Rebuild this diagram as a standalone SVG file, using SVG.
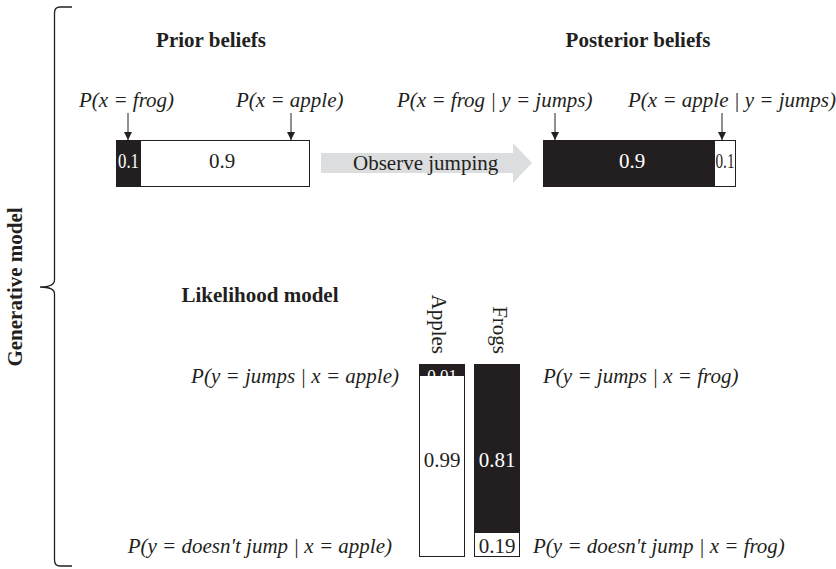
<svg xmlns="http://www.w3.org/2000/svg" width="836" height="569" viewBox="0 0 836 569">
<defs>
<marker id="ah" viewBox="0 0 10 10" refX="10" refY="5" markerWidth="8" markerHeight="8" markerUnits="userSpaceOnUse" orient="auto">
<path d="M0,0 L10,5 L0,10 Z" fill="#231f20"/>
</marker>
<style>
text{font-family:"Liberation Serif","Times New Roman",serif;font-size:21px;fill:#231f20}
.b{font-weight:bold}
.i{font-style:italic}
.w{fill:#fff}
.c{text-anchor:middle}
.e{text-anchor:end}
.blk{fill:#231f20;stroke:#231f20;stroke-width:1}
.wht{fill:#fff;stroke:#231f20;stroke-width:1}
.ar{stroke:#231f20;stroke-width:1;fill:none;marker-end:url(#ah)}
</style>
</defs>
<rect width="836" height="569" fill="#fff"/>

<g id="bracket">
<path d="M72,7 L60,7 Q54.5,7 54.5,13 L54.5,280 Q54.5,287 40,287 Q54.5,287 54.5,294 L54.5,560 Q54.5,566 60,566 L72,566" fill="none" stroke="#231f20" stroke-width="1.3"/>
<text class="b c" transform="translate(22,287) rotate(-90)">Generative model</text>
</g>

<g id="prior">
<text class="b c" x="211" y="47">Prior beliefs</text>
<text class="i" x="79" y="107">P(x = frog)</text>
<text class="i" x="236" y="107">P(x = apple)</text>
<rect class="wht" x="116.5" y="140.5" width="193" height="46"/>
<rect class="blk" x="116.5" y="140.5" width="24" height="46"/>
<text class="w c" x="128.5" y="168" textLength="21" lengthAdjust="spacingAndGlyphs">0.1</text>
<text class="c" x="222" y="168">0.9</text>
</g>

<g id="observe">
<path d="M321,153 L513,153 L513,143 L532,163 L513,183 L513,173 L321,173 Z" fill="#dcdddf"/>
<text x="353" y="170">Observe jumping</text>
</g>

<g id="posterior">
<text class="b c" x="638" y="47">Posterior beliefs</text>
<text class="i" x="397" y="107">P(x = frog | y = jumps)</text>
<text class="i" x="628" y="107">P(x = apple | y = jumps)</text>
<rect class="wht" x="543.5" y="140.5" width="192" height="46"/>
<rect class="blk" x="543.5" y="140.5" width="171" height="46"/>
<text class="w c" x="632" y="168">0.9</text>
<text class="c" x="725" y="168" textLength="19" lengthAdjust="spacingAndGlyphs">0.1</text>
</g>

<g id="likelihood">
<text class="b c" x="260" y="302">Likelihood model</text>
<text class="i e" x="399" y="383">P(y = jumps | x = apple)</text>
<text class="i e" x="392" y="553">P(y = doesn't jump | x = apple)</text>
<text class="i" x="543" y="383">P(y = jumps | x = frog)</text>
<text class="i" x="533" y="553">P(y = doesn't jump | x = frog)</text>
</g>

<g id="apples">
<text class="e" transform="translate(432,354) rotate(90)">Apples</text>
<rect class="wht" x="419.5" y="364.5" width="45" height="192"/>
<rect class="blk" x="419.5" y="364.5" width="45" height="11"/>
<text class="w c" x="442" y="381" style="font-size:17px">0.01</text>
<text class="c" x="442" y="467">0.99</text>
</g>

<g id="frogs">
<text class="e" transform="translate(493,354) rotate(90)">Frogs</text>
<rect class="wht" x="474.5" y="364.5" width="45" height="192"/>
<rect class="blk" x="474.5" y="364.5" width="45" height="168"/>
<text class="w c" x="497" y="467">0.81</text>
<text class="c" x="497" y="553">0.19</text>
</g>

<g id="connectors">
<line class="ar" x1="128" y1="113" x2="128" y2="140"/>
<line class="ar" x1="291" y1="113" x2="291" y2="140"/>
<line class="ar" x1="555" y1="113" x2="555" y2="140"/>
<line class="ar" x1="722" y1="113" x2="722" y2="140"/>
</g>
</svg>
